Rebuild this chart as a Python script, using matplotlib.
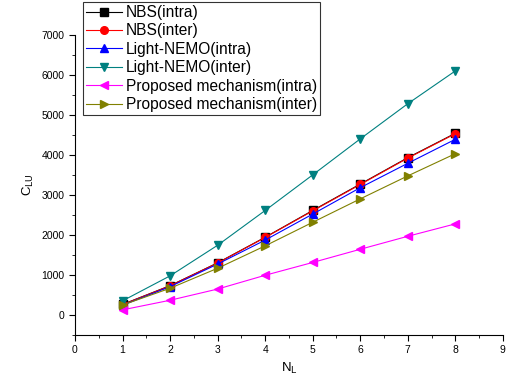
import matplotlib
matplotlib.use("Agg")
import matplotlib.pyplot as plt
from matplotlib.ticker import MultipleLocator

plt.rcParams["font.family"] = ["Liberation Sans", "DejaVu Sans"]

n_l = [1, 2, 3, 4, 5, 6, 7, 8]
nbs_intra = [260, 730, 1300, 1940, 2610, 3270, 3930, 4540]
nbs_inter = [255, 725, 1295, 1935, 2600, 3260, 3920, 4530]
nemo_intra = [240, 705, 1270, 1870, 2520, 3180, 3790, 4390]
nemo_inter = [350, 975, 1740, 2610, 3500, 4400, 5280, 6100]
prop_intra = [125, 365, 645, 990, 1310, 1640, 1965, 2275]
prop_inter = [245, 665, 1165, 1725, 2315, 2900, 3475, 4030]

series = [
    ("NBS(intra)", nbs_intra, "black", "s"),
    ("NBS(inter)", nbs_inter, "red", "o"),
    ("Light-NEMO(intra)", nemo_intra, "blue", "^"),
    ("Light-NEMO(inter)", nemo_inter, "#008080", "v"),
    ("Proposed mechanism(intra)", prop_intra, "magenta", "<"),
    ("Proposed mechanism(inter)", prop_inter, "#808000", ">"),
]

fig = plt.figure(figsize=(5.1, 3.84), dpi=100)
ax = fig.add_axes([0.147, 0.128, 0.839, 0.781])

for label, vals, color, marker in series:
    ax.plot(n_l, vals, color=color, marker=marker, markersize=5.5, linewidth=0.8,
            label=label)

ax.set_xlim(0, 9)
ax.set_ylim(-500, 7000)
ax.xaxis.set_major_locator(MultipleLocator(1))
ax.xaxis.set_minor_locator(MultipleLocator(0.5))
ax.yaxis.set_major_locator(MultipleLocator(1000))
ax.yaxis.set_minor_locator(MultipleLocator(500))
ax.spines["top"].set_visible(False)
ax.spines["right"].set_visible(False)
ax.tick_params(which="major", direction="out", length=4, labelsize=7.5)
ax.tick_params(which="minor", direction="out", length=2.5)

ax.set_xlabel(r"N$_{\mathrm{L}}$", fontsize=9.5)
ax.set_ylabel(r"C$_{\mathrm{LU}}$", fontsize=9.5)

leg = ax.legend(loc="upper left", bbox_to_anchor=(0.163, 0.995),
                bbox_transform=fig.transFigure, fontsize=11.2, frameon=True,
                fancybox=False, edgecolor="black", borderpad=0.2,
                labelspacing=0.22, handlelength=2.3, handletextpad=0.25,
                borderaxespad=0)
leg.get_frame().set_linewidth(0.8)

fig.savefig("out.png", dpi=100)
